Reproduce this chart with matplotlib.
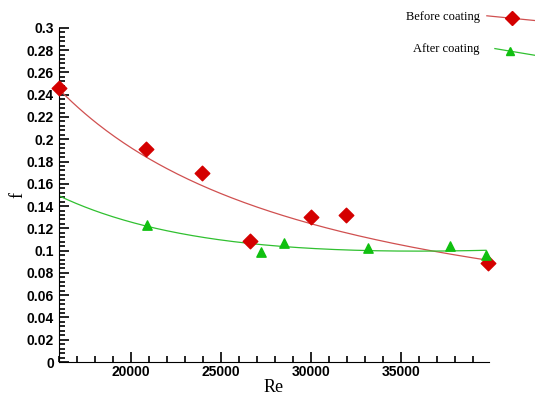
import numpy as np
import matplotlib
matplotlib.use("Agg")
import matplotlib.pyplot as plt
from matplotlib.ticker import MultipleLocator
from matplotlib.lines import Line2D

# Before coating (red diamonds)
re_before = [16000, 20850, 23950, 26600, 30000, 31950, 39850]
f_before = [0.246, 0.191, 0.170, 0.109, 0.130, 0.132, 0.089]

# After coating (green triangles)
re_after = [20900, 27250, 28500, 33200, 37750, 39750]
f_after = [0.123, 0.099, 0.107, 0.102, 0.104, 0.096]

red = '#d40000'
red_line = '#d05050'
green = '#10c010'
green_line = '#30c030'

fig = plt.figure(figsize=(5.35, 3.95), dpi=100)
ax = fig.add_axes([0.110, 0.0835, 0.804, 0.846])

# trend curves: power-law fit for before, quadratic in log(Re) for after
xs = np.linspace(16000, 39850, 200)
pb = np.polyfit(np.log(re_before), np.log(f_before), 1)
ca = np.polyfit(np.log(re_after), f_after, 2)
xa = xs[xs <= 39750]
ax.plot(xs, np.exp(np.polyval(pb, np.log(xs))), color=red_line, lw=0.9, zorder=2)
ax.plot(xa, np.polyval(ca, np.log(xa)), color=green_line, lw=0.9, zorder=2)

ax.scatter(re_before, f_before, marker='D', s=55, color=red, zorder=3, clip_on=False)
ax.scatter(re_after, f_after, marker='^', s=45, color=green, zorder=3, clip_on=False)

ax.set_xlim(16000, 39900)
ax.set_ylim(0, 0.3)
ax.spines['top'].set_visible(False)
ax.spines['right'].set_visible(False)
ax.xaxis.set_major_locator(MultipleLocator(5000))
ax.xaxis.set_minor_locator(MultipleLocator(1000))
ax.yaxis.set_major_locator(MultipleLocator(0.02))
ax.yaxis.set_minor_locator(MultipleLocator(0.004))
ax.tick_params(which='both', direction='in', width=1.2)
ax.tick_params(which='major', length=7)
ax.tick_params(which='minor', length=4)
ax.tick_params(axis='x', pad=2)
ax.set_yticklabels([('%g' % v) for v in ax.get_yticks()])
for lab in ax.get_xticklabels() + ax.get_yticklabels():
    lab.set_fontfamily('Liberation Sans')
    lab.set_fontweight('bold')
    lab.set_fontsize(10)

ax.set_xlabel('Re', family='Liberation Serif', fontsize=13, labelpad=0)
ax.set_ylabel('f', family='Liberation Serif', fontsize=13, rotation=90, labelpad=0)

# legend outside at top right
fig.text(0.897, 0.957, 'Before coating', family='Liberation Serif', fontsize=9,
         ha='right', va='center')
fig.add_artist(Line2D([0.91, 1.0], [0.960, 0.948], color=red_line, lw=0.9,
                      transform=fig.transFigure))
fig.add_artist(Line2D([0.957], [0.955], marker='D', ms=7, color=red,
                      transform=fig.transFigure))
fig.text(0.897, 0.877, 'After coating', family='Liberation Serif', fontsize=9,
         ha='right', va='center')
fig.add_artist(Line2D([0.925, 1.0], [0.877, 0.860], color=green_line, lw=0.9,
                      transform=fig.transFigure))
fig.add_artist(Line2D([0.953], [0.872], marker='^', ms=6, color=green,
                      transform=fig.transFigure))

fig.savefig('out.png', dpi=100)
